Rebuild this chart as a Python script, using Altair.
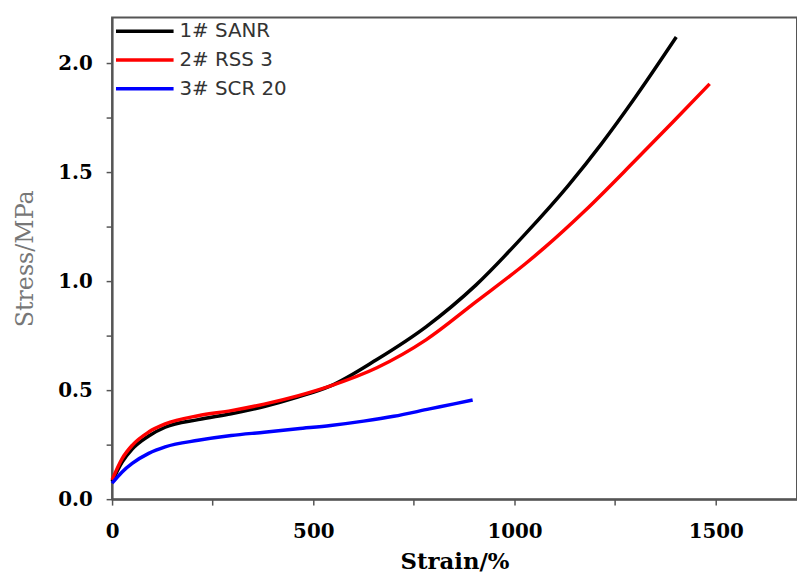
import altair as alt
import pandas as pd

series_names = ["1# SANR", "2# RSS 3", "3# SCR 20"]
series_colors = ["#000000", "#ff0000", "#0000ff"]

sanr_strain = [0, 25, 50, 91, 132, 214, 296, 378, 461, 543, 658, 781, 904, 1027, 1134, 1216, 1298, 1402]
sanr_stress = [0.08, 0.17, 0.23, 0.29, 0.33, 0.365, 0.392, 0.425, 0.468, 0.52, 0.641, 0.792, 0.982, 1.217, 1.44, 1.63, 1.838, 2.12]

rss_strain = [0, 25, 50, 91, 132, 214, 296, 378, 461, 543, 658, 781, 904, 1027, 1076, 1175, 1298, 1396, 1485]
rss_stress = [0.088, 0.186, 0.247, 0.308, 0.345, 0.383, 0.406, 0.436, 0.474, 0.52, 0.603, 0.732, 0.905, 1.08, 1.156, 1.323, 1.55, 1.735, 1.905]

scr_strain = [0, 25, 50, 91, 132, 214, 296, 378, 461, 543, 625, 700, 789, 850, 896]
scr_stress = [0.073, 0.125, 0.164, 0.21, 0.24, 0.27, 0.292, 0.307, 0.323, 0.338, 0.358, 0.38, 0.414, 0.437, 0.455]

x_ticks = [0, 250, 500, 750, 1000, 1250, 1500]
y_ticks = [0, 0.25, 0.5, 0.75, 1.0, 1.25, 1.5, 1.75, 2.0]

rows = []
for name, xs, ys in zip(series_names,
                        [sanr_strain, rss_strain, scr_strain],
                        [sanr_stress, rss_stress, scr_stress]):
    for i, (a, b) in enumerate(zip(xs, ys)):
        rows.append({"series": name, "strain": a, "stress": b, "i": i})
df = pd.DataFrame(rows)

chart = alt.Chart(df).mark_line(strokeWidth=3.5, interpolate="monotone").encode(
    x=alt.X("strain:Q", scale=alt.Scale(domain=[0, 1702], nice=False, zero=False),
            axis=alt.Axis(title="Strain/%", values=x_ticks, format="d",
                          labelExpr="datum.value % 500 === 0 ? datum.label : ''",
                          labelFlush=False,
                          titleFontWeight="bold", titleColor="#000000",
                          titleFontSize=23, titlePadding=9, labelPadding=17)),
    y=alt.Y("stress:Q", scale=alt.Scale(domain=[0, 2.21], nice=False),
            axis=alt.Axis(title="Stress/MPa", values=y_ticks, format=".1f",
                          labelExpr="(datum.value * 2) % 1 === 0 ? format(datum.value, '.1f') : ''",
                          labelFlush=False,
                          titleFontWeight="normal", titleColor="#777777",
                          titleFontSize=24, titlePadding=20, labelPadding=14)),
    color=alt.Color("series:N",
                    scale=alt.Scale(domain=series_names, range=series_colors),
                    legend=alt.Legend(title=None, orient="none", legendX=23, legendY=4,
                                      symbolType="M-5,0H5", symbolSize=135,
                                      symbolStrokeWidth=3.5, labelOffset=25,
                                      labelFont="DejaVu Sans", labelFontSize=20,
                                      labelColor="#333333", rowPadding=9, padding=0)),
    order=alt.Order("i:Q"),
).properties(
    width=691, height=486,
    autosize=alt.AutoSizeParams(type="none"),
    padding={"left": 105, "top": 7, "right": 0, "bottom": 75},
).configure_axis(
    labelFont="DejaVu Serif", labelFontWeight="bold", labelFontSize=20, labelColor="#000000",
    titleFont="DejaVu Serif", domainColor="#555555", domainWidth=2,
    tickColor="#555555", tickWidth=1.5, tickSize=6, grid=False,
).configure_view(stroke="#555555", strokeWidth=2)

chart.save("out.html", embed_options={"renderer": "svg", "actions": False})
